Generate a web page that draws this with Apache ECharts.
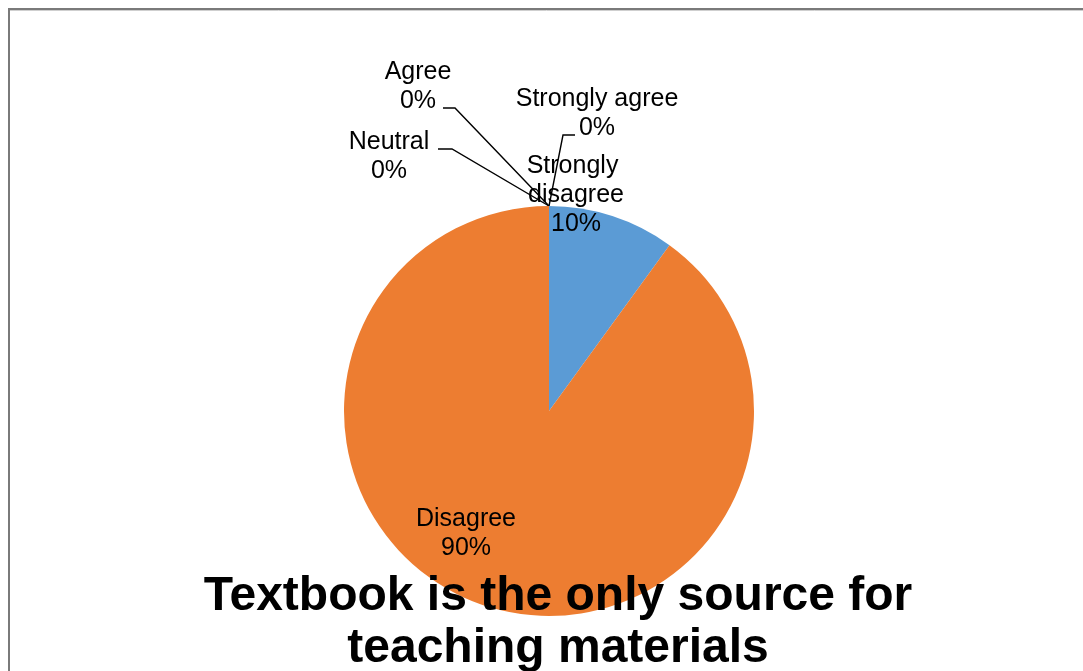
<!DOCTYPE html>
<html>
<head>
<meta charset="utf-8">
<title>Textbook is the only source for teaching materials</title>
<script src="https://cdn.jsdelivr.net/npm/echarts@6/dist/echarts.min.js"></script>
<style>
  html, body { margin: 0; padding: 0; background: #fff; }
  #chart { width: 1083px; height: 671px; }
</style>
</head>
<body>
<div id="chart"></div>
<script>
// Survey responses, in the order the slices run clockwise from 12 o'clock
const categories = ['Strongly disagree', 'Disagree', 'Neutral', 'Agree', 'Strongly agree'];
const values = [10, 90, 0, 0, 0];
const sliceColors = ['#5B9BD5', '#ED7D31', '#A5A5A5', '#FFC000', '#4472C4'];
const chartTitle = 'Textbook is the only source for\nteaching materials';

const FONT = "'Liberation Sans', Arial, sans-serif";

// Pie geometry
const CX = 549, CY = 411, R = 205;

// Label anchors as offsets from the pie centre; zero slices get elbow leader lines
const labelPlacement = {
  0: { dx: 27,  dy: -216 },
  1: { dx: -83, dy: 123 },
  2: { dx: -160, dy: -254, line: [[-97, -262], [-111, -262]] },
  3: { dx: -131, dy: -324, line: [[-94, -303], [-106, -303]] },
  4: { dx: 48,  dy: -297, line: [[14, -276], [26, -276]] }
};

const chart = echarts.init(document.getElementById('chart'), null, { renderer: 'canvas' });

const seriesData = categories.map((name, i) => {
  const item = {
    name: name,
    value: values[i],
    itemStyle: { color: sliceColors[i] },
    labelLine: { show: !!labelPlacement[i].line }
  };
  if (i === 0) {
    item.label = { width: 110, overflow: 'break' };
  }
  return item;
});

chart.setOption({
  backgroundColor: '#ffffff',
  animation: false,
  title: {
    text: chartTitle,
    left: 553,
    top: 566,
    textAlign: 'center',
    textStyle: {
      fontFamily: FONT,
      fontSize: 48,
      fontWeight: 'bold',
      color: '#000000',
      lineHeight: 52
    },
    z: 10
  },
  graphic: [
    {
      type: 'polyline',
      silent: true,
      shape: { points: [[9, 671], [9, 9], [1083, 9]] },
      style: { stroke: '#7a7a7a', lineWidth: 2, fill: null }
    },
    {
      type: 'line',
      silent: true,
      shape: { x1: 10, y1: 10.5, x2: 1083, y2: 10.5 },
      style: { stroke: '#cfcfcf', lineWidth: 1 }
    }
  ],
  series: [{
    type: 'pie',
    center: [CX, CY],
    radius: R,
    startAngle: 90,
    clockwise: true,
    avoidLabelOverlap: false,
    percentPrecision: 0,
    emptyCircleStyle: { opacity: 0 },
    itemStyle: { borderWidth: 0 },
    data: seriesData,
    label: {
      show: true,
      position: 'outside',
      formatter: '{b}\n{d}%',
      color: '#000000',
      fontFamily: FONT,
      fontSize: 25,
      lineHeight: 29,
      align: 'center'
    },
    labelLine: {
      show: true,
      lineStyle: { color: '#000000', width: 1.4 }
    },
    labelLayout: function (params) {
      const p = labelPlacement[params.dataIndex];
      const out = {
        x: CX + p.dx,
        y: CY + p.dy,
        align: 'center',
        verticalAlign: 'middle'
      };
      if (p.line) {
        out.labelLinePoints = [
          [CX + p.line[1][0], CY + p.line[1][1]],
          [CX + p.line[0][0], CY + p.line[0][1]],
          [CX, CY - R]
        ];
      }
      return out;
    }
  }]
});
</script>
</body>
</html>
